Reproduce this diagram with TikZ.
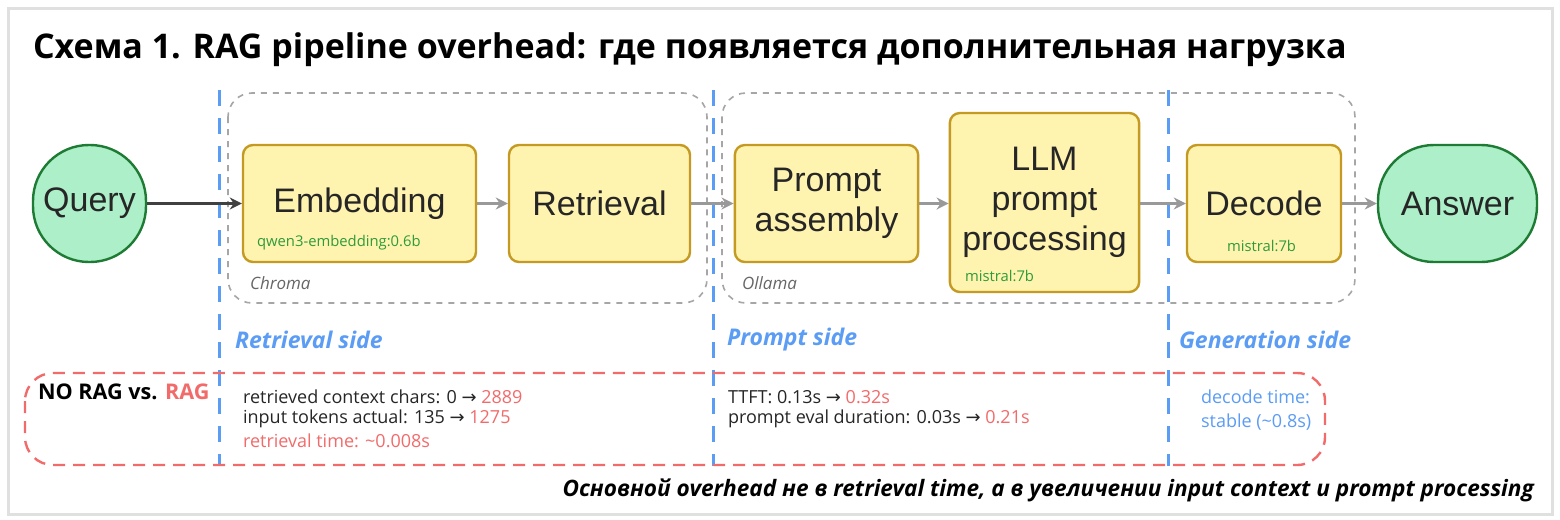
\documentclass[tikz,border=0pt]{standalone}
\usepackage{fontspec}
\setmainfont{Open Sans}
\newfontfamily\arialf{Liberation Sans}
\newfontfamily\djv{DejaVu Sans}
\newcommand{\rarr}{{\djv\small →}}
\usetikzlibrary{arrows.meta}
\definecolor{yfill}{HTML}{FFF3B0}
\definecolor{ydraw}{HTML}{C49A22}
\definecolor{gfill}{HTML}{ADEFC8}
\definecolor{gdraw}{HTML}{1E7B34}
\definecolor{bl}{HTML}{5B9CF5}
\definecolor{rd}{HTML}{F26B6B}
\definecolor{gtext}{HTML}{2E9B3A}
\tikzset{
 proc/.style={draw=ydraw,fill=yfill,line width=1.2pt,rounded corners=5pt,align=center,font=\arialf\fontsize{17}{20}\selectfont,text=black!85},
 term/.style={draw=gdraw,fill=gfill,line width=1.2pt,rounded corners=28pt,font=\arialf\fontsize{17}{20}\selectfont,text=black!85},
 grp/.style={draw=black!35,dashed,line width=0.8pt,rounded corners=12pt},
 arr/.style={-{Stealth[length=6pt,width=6pt]},line width=1.2pt,draw=black!40},
 sep/.style={draw=bl,line width=1.5pt,dash pattern=on 8pt off 6pt},
 side/.style={anchor=west,text=bl,font=\bfseries\itshape\fontsize{11.5}{13}\selectfont},
 small/.style={anchor=west,font=\fontsize{9}{11}\selectfont,text=black!85},
 mdl/.style={anchor=west,text=gtext,font=\fontsize{7.4}{8}\selectfont},
}
\begin{document}
\begin{tikzpicture}[x=0.5pt,y=-0.5pt]
\useasboundingbox (0,0) rectangle (1560,520);
\draw[black!12,line width=1.5pt,fill=white] (8,8) rectangle (1552,514);
\node[anchor=west,font=\bfseries\fontsize{17}{20}\selectfont] (title) at (26,50) {Схема 1. RAG pipeline overhead: где появляется дополнительная нагрузка};
% groups
\draw[grp] (228,93) rectangle (707,303);
\draw[grp] (722,93) rectangle (1355,303);
\node[anchor=west,text=black!60,font=\itshape\fontsize{8.5}{10}\selectfont] (chroma) at (243,283) {Chroma};
\node[anchor=west,text=black!60,font=\itshape\fontsize{8.5}{10}\selectfont] (ollama) at (735,283) {Ollama};
% separators
\foreach \x/\n in {219/s1,713/s2,1168/s3}{
 \coordinate (\n t) at (\x,90); \coordinate (\n b) at (\x,466);
 \draw[sep] (\n t) -- (\n b);
}
% nodes
\node[term,minimum width=56.5pt,minimum height=58.5pt] (q) at (89.5,203.5) {Query};
\node[proc,minimum width=116.5pt,minimum height=58.5pt] (emb) at (359.5,203.5) {Embedding};
\node[proc,minimum width=90.5pt,minimum height=58.5pt] (ret) at (599.5,203.5) {Retrieval};
\node[proc,minimum width=90.5pt,minimum height=58.5pt,text width=85pt] (pa) at (826.5,203.5) {Prompt\\[0pt]assembly};
\node[proc,minimum width=93.5pt,minimum height=89.5pt,text width=88pt] (llm) at (1044.5,202.5) {LLM\\[0pt]prompt\\[0pt]processing};
\node[proc,minimum width=77pt,minimum height=58.5pt] (dec) at (1264,203.5) {Decode};
\node[term,minimum width=79.5pt,minimum height=58.5pt] (ans) at (1457.5,203.5) {Answer};
\node[mdl] (m1) at (250,243) {qwen3-embedding:0.6b};
\node[mdl] (m2) at (958,276) {mistral:7b};
\node[mdl] (m3) at (1220,246) {mistral:7b};
% arrows
\draw[arr,draw=black!75] (q) -- (emb);
\draw[arr] (emb) -- (ret);
\draw[arr] (ret) -- (pa);
\draw[arr] (pa) -- (pa -| llm.west);
\draw[arr] (llm.east |- dec) -- (dec);
\draw[arr] (dec) -- (ans);
% side labels
\node[side] (rs) at (228,340) {Retrieval side};
\node[side] (ps) at (720,340) {Prompt side};
\node[side] (gs) at (1172,340) {Generation side};
% red box
\draw[rd,line width=1.2pt,dash pattern=on 6pt off 4pt,rounded corners=14pt] (25,373) rectangle (1325,465);
\node[anchor=west,font=\bfseries\fontsize{10.8}{12}\selectfont] (nr) at (31,392) {NO RAG vs. \textcolor{rd}{RAG}};
\node[small] (t1) at (236,397) {retrieved context chars: 0 \rarr\ \textcolor{rd}{2889}};
\node[small] (t2) at (236,419) {input tokens actual: 135 \rarr\ \textcolor{rd}{1275}};
\node[small,text=rd] (t3) at (236,441) {retrieval time: \textasciitilde0.008s};
\node[small] (t4) at (721,397) {TTFT: 0.13s \rarr\ \textcolor{rd}{0.32s}};
\node[small] (t5) at (721,419) {prompt eval duration: 0.03s \rarr\ \textcolor{rd}{0.21s}};
\node[small,text=bl] (t6) at (1194,397) {decode time:};
\node[small,text=bl] (t7) at (1194,422) {stable (\textasciitilde0.8s)};
\node[anchor=east,font=\bfseries\itshape\fontsize{11.3}{13}\selectfont] (foot) at (1541,490) {Основной overhead не в retrieval time, а в увеличении input context и prompt processing};
\end{tikzpicture}
\end{document}
